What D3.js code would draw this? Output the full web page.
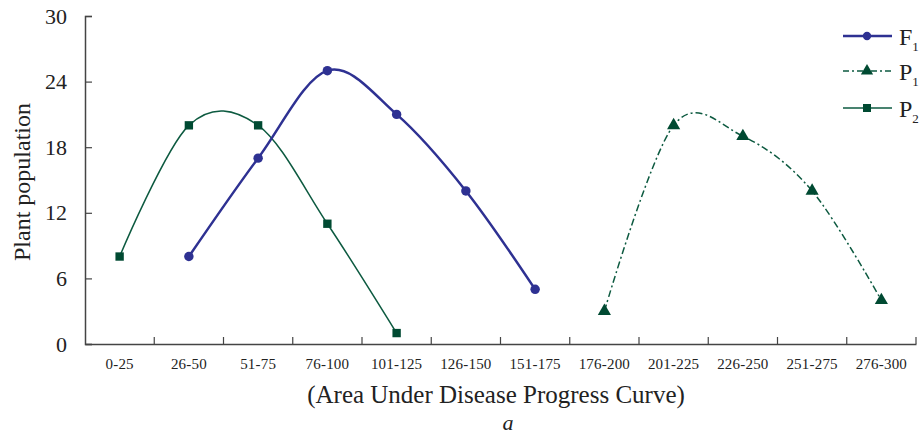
<!DOCTYPE html>
<html>
<head>
<meta charset="UTF-8">
<title>Plant population by AUDPC class</title>
<script src="https://d3js.org/d3.v7.min.js"></script>
<style>
body { margin: 0; background: #fff; }
svg text { font-family: "Liberation Serif", Tinos, "Times New Roman", "DejaVu Serif", serif !important; fill: #222; }
</style>
</head>
<body>
<figure class=chart style="margin:0"></figure>
<script>

/* Data */
var classes = ['0-25', '26-50', '51-75', '76-100', '101-125', '126-150', '151-175',
	'176-200', '201-225', '226-250', '251-275', '276-300'];
var f1Classes = ['26-50', '51-75', '76-100', '101-125', '126-150', '151-175'];
var f1Values = [8, 17, 25, 21, 14, 5];
var p1Classes = ['176-200', '201-225', '226-250', '251-275', '276-300'];
var p1Values = [3, 20, 19, 14, 4];
var p2Classes = ['0-25', '26-50', '51-75', '76-100', '101-125'];
var p2Values = [8, 20, 20, 11, 1];
var yTicks = [0, 6, 12, 18, 24, 30];

/* Global variables */
var W = 922, H = 435
var blue = '#2e3192'
var green = '#0d5a40'
var greenMark = '#004a32'

var x = d3.scaleBand().domain(classes).range([85, 916]).padding(0)
var y = d3.scaleLinear().domain([0, 30]).range([344, 16])

var svg = d3.select('figure').append('svg')
	.attr('width', W)
	.attr('height', H)

function cx(c) { return x(c) + x.bandwidth() / 2; }

/* Axes */
function draw_axes() {
	var yAxis = svg.append('g')
		.attr('transform', 'translate(85,0)')
		.call(d3.axisLeft(y).tickValues(yTicks).tickSize(-7).tickPadding(18))
	yAxis.attr('font-family', null)
	yAxis.select('.domain').attr('stroke', '#444').attr('stroke-width', 1.5)
	yAxis.selectAll('.tick line').attr('stroke', '#444').attr('stroke-width', 1.2)
	yAxis.selectAll('.tick text')
		.style('font-size', '22px')
		.attr('fill', '#222')

	var xAxis = svg.append('g')
		.attr('transform', 'translate(0,344)')
		.call(d3.axisBottom(x).tickSize(0).tickPadding(14))
	xAxis.attr('font-family', null)
	xAxis.select('.domain').attr('stroke', '#444').attr('stroke-width', 1.5)
	xAxis.selectAll('.tick text')
		.style('font-size', '15px')
		.style('letter-spacing', '0.2px')
		.attr('fill', '#222')

	// ticks at class boundaries, pointing up
	svg.append('g').selectAll('line')
		.data(classes.slice(1).concat(['end']))
		.enter().append('line')
		.attr('x1', function(d) { return d == 'end' ? x.range()[1] : x(d); })
		.attr('x2', function(d) { return d == 'end' ? x.range()[1] : x(d); })
		.attr('y1', 344)
		.attr('y2', 337)
		.attr('stroke', '#444')
		.attr('stroke-width', 1.2)

	svg.append('text')
		.attr('transform', 'translate(30,' + (y(15) + 2) + ') rotate(-90)')
		.attr('text-anchor', 'middle')
		.style('font-size', '24px')
		.text('Plant population')

	svg.append('text')
		.attr('x', 496)
		.attr('y', 403)
		.attr('text-anchor', 'middle')
		.style('font-size', '25px')
		.text('(Area Under Disease Progress Curve)')

	svg.append('text')
		.attr('x', 508)
		.attr('y', 430)
		.attr('text-anchor', 'middle')
		.style('font-size', '22px')
		.style('font-style', 'italic')
		.text('a')
}

/* Series */
function draw_series(cls, vals, color, width, dash, marker, mcolor) {
	var pts = cls.map(function(c, i) { return [cx(c), y(vals[i])]; })
	var line = d3.line().curve(d3.curveCardinal.tension(0))
	svg.append('path')
		.attr('d', line(pts))
		.attr('fill', 'none')
		.attr('stroke', color)
		.attr('stroke-width', width)
		.attr('stroke-dasharray', dash)
	svg.append('g').selectAll('path')
		.data(pts)
		.enter().append('path')
		.attr('transform', function(d) { return 'translate(' + d[0] + ',' + d[1] + ')'; })
		.attr('d', d3.symbol().type(marker).size(marker == d3.symbolTriangle ? 75 : 70))
		.attr('fill', mcolor)
}

function draw_legend() {
	var items = [
		{ name: 'F', sub: '1', color: blue, width: 2.5, dash: null, marker: d3.symbolCircle, mcolor: blue, y: 36 },
		{ name: 'P', sub: '1', color: green, width: 1.5, dash: '6,3,2,3', marker: d3.symbolTriangle, mcolor: greenMark, y: 71 },
		{ name: 'P', sub: '2', color: green, width: 1.5, dash: null, marker: d3.symbolSquare, mcolor: greenMark, y: 108 }
	]
	var g = svg.append('g').selectAll('g')
		.data(items)
		.enter().append('g')
		.attr('transform', function(d) { return 'translate(843,' + d.y + ')'; })
	g.append('line')
		.attr('x1', 0).attr('x2', 49)
		.attr('stroke', function(d) { return d.color; })
		.attr('stroke-width', function(d) { return d.width; })
		.attr('stroke-dasharray', function(d) { return d.dash; })
	g.append('path')
		.attr('transform', 'translate(24,0)')
		.attr('d', function(d) { return d3.symbol().type(d.marker).size(d.marker == d3.symbolCircle ? 55 : 65)(); })
		.attr('fill', function(d) { return d.mcolor; })
	var t = g.append('text')
		.attr('x', 56)
		.attr('y', 9)
		.style('font-size', '24px')
	t.append('tspan').text(function(d) { return d.name; })
	t.append('tspan')
		.attr('dy', 6)
		.style('font-size', '13px')
		.text(function(d) { return d.sub; })
}

/* Main code */
draw_axes()
draw_series(p2Classes, p2Values, green, 1.5, null, d3.symbolSquare, greenMark)
draw_series(f1Classes, f1Values, blue, 2.5, null, d3.symbolCircle, blue)
draw_series(p1Classes, p1Values, green, 1.5, '7,3,2,3', d3.symbolTriangle, greenMark)
draw_legend()

</script>
</body>
</html>
